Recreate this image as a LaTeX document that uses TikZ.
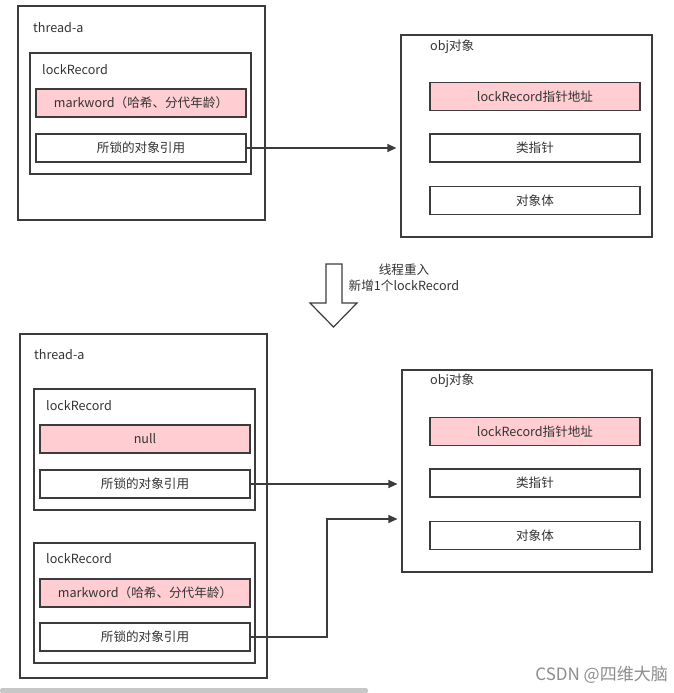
\documentclass[tikz,border=0pt]{standalone}
\usepackage{fontspec}
\setmainfont{Noto Sans CJK SC}
\usetikzlibrary{arrows.meta}

\definecolor{linegray}{HTML}{3C3C3C}
\definecolor{textgray}{HTML}{333333}
\definecolor{cellpink}{HTML}{FFCDD2}

\tikzset{
    box/.style={draw=linegray, line width=1.2pt, inner sep=0pt},
    cell/.style={box, fill=white, minimum width=210pt, minimum height=28pt,
        text=textgray, font=\fontsize{12.6}{14}\selectfont},
    pinkcell/.style={cell, fill=cellpink},
    title/.style={anchor=west, inner sep=0pt, text=textgray,
        font=\fontsize{12.6}{14}\selectfont},
    conn/.style={draw=linegray, line width=1.2pt,
        -{Triangle[length=9pt,width=8pt]}, shorten >=4pt}
}

\begin{document}
\begin{tikzpicture}[x=1pt, y=-1pt]
        \useasboundingbox (0,0) rectangle (674,693);

        % 上半部分：线程与obj对象
        \node[box, minimum width=247pt, minimum height=214pt] (threadA) at (141.5,113) {};
        \node[title] (threadAlbl) at (33,28) {thread-a};
        \node[box, minimum width=221pt, minimum height=121pt] (rec) at (140.5,113.5) {};
        \node[title] (reclbl) at (42,70) {lockRecord};
        \node[pinkcell] (mark) at (141,103) {markword（哈希、分代年龄）};
        \node[cell] (ref) at (141,148) {所锁的对象引用};

        \node[box, minimum width=251pt, minimum height=202pt] (obj) at (526.5,136) {};
        \node[title] (objlbl) at (430,47) {obj对象};
        \node[pinkcell] (ptr) at (535,96.5) {lockRecord指针地址};
        \node[cell] (cls) at (535,148) {类指针};
        \node[cell] (body) at (535,200.5) {对象体};

        \draw[conn] (ref.east) -- (ref.east -| obj.west);

        % 中间的箭头
        \draw[linegray, line width=1.2pt, fill=white]
            (326,264) -- (342,264) -- (342,303) -- (357,303) -- (333.5,327)
            -- (310,303) -- (326,303) -- cycle;
        \node[align=center, inner sep=0pt, text=textgray,
            font=\fontsize{12.6}{16}\selectfont] (note) at (404,278)
            {线程重入\\新增1个lockRecord};

        % 下半部分：重入后
        \node[box, minimum width=247pt, minimum height=344pt] (threadB) at (143.5,506) {};
        \node[title] (threadBlbl) at (34,355) {thread-a};
        \node[box, minimum width=221pt, minimum height=121pt] (recB) at (144.5,449.5) {};
        \node[title] (recBlbl) at (46,406) {lockRecord};
        \node[pinkcell] (nul) at (145,439) {null};
        \node[cell] (refB) at (145,484) {所锁的对象引用};
        \node[box, minimum width=221pt, minimum height=120pt] (recC) at (144.5,603) {};
        \node[title] (recClbl) at (46,559) {lockRecord};
        \node[pinkcell] (markC) at (145,593) {markword（哈希、分代年龄）};
        \node[cell] (refC) at (145,637) {所锁的对象引用};

        \node[box, minimum width=250pt, minimum height=202pt] (objB) at (527,471) {};
        \node[title] (objBlbl) at (430,381) {obj对象};
        \node[pinkcell] (ptrB) at (535,431.5) {lockRecord指针地址};
        \node[cell] (clsB) at (535,483) {类指针};
        \node[cell] (bodyB) at (535,535.5) {对象体};

        \coordinate (bend) at (327,519);
        \draw[conn] (refB.east) -- (refB.east -| objB.west);
        \draw[conn] (refC.east) -| (bend) -- (bend -| objB.west);

        % 水印与底部滚动条
        \node[anchor=east, inner sep=0pt, text=black!45,
            font=\fontsize{17}{19}\selectfont] (csdn) at (668,675) {CSDN @四维大脑};
        \fill[black!22, rounded corners=1.5pt] (0,688) rectangle (368,693);
\end{tikzpicture}
\end{document}
